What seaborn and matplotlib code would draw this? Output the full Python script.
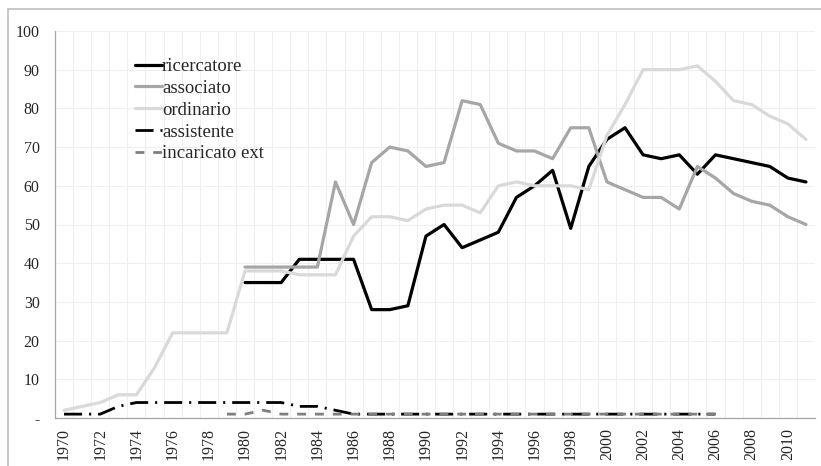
import numpy as np
import pandas as pd
import matplotlib
matplotlib.use("Agg")
import matplotlib.pyplot as plt
from matplotlib.patches import Rectangle
from matplotlib.ticker import FixedLocator, FuncFormatter
import seaborn as sns

years = list(range(1970, 2012))
nan = np.nan

ricercatore = [nan] * 10 + [
    35, 35, 35, 41, 41, 41, 41, 28, 28, 29,
    47, 50, 44, 46, 48, 57, 60, 64, 49, 65,
    72, 75, 68, 67, 68, 63, 68, 67, 66, 65,
    62, 61]
associato = [nan] * 10 + [
    39, 39, 39, 39, 39, 61, 50, 66, 70, 69,
    65, 66, 82, 81, 71, 69, 69, 67, 75, 75,
    61, 59, 57, 57, 54, 65, 62, 58, 56, 55,
    52, 50]
ordinario = [
    2, 3, 4, 6, 6, 13, 22, 22, 22, 22,
    38, 38, 38, 37, 37, 37, 47, 52, 52, 51,
    54, 55, 55, 53, 60, 61, 60, 60, 60, 59,
    73, 81, 90, 90, 90, 91, 87, 82, 81, 78,
    76, 72]
assistente = [
    1, 1, 1, 3, 4, 4, 4, 4, 4, 4,
    4, 4, 4, 3, 3, 2, 1, 1, 1, 1,
    1, 1, 1, 1, 1, 1, 1, 1, 1, 1,
    1, 1, 1, 1, 1, 1, 1] + [nan] * 5
incaricato_ext = [nan] * 9 + [
    1, 1, 2, 1, 1, 1, 1, 1] + [nan] * 17 + [1, 1, 1] + [nan] * 5

series = {
    "ricercatore": ricercatore,
    "associato": associato,
    "ordinario": ordinario,
    "assistente": assistente,
    "incaricato ext": incaricato_ext,
}
styles = {
    "ricercatore": dict(color="#000000", lw=2.3, ls="-"),
    "associato": dict(color="#a6a6a6", lw=2.3, ls="-"),
    "ordinario": dict(color="#d9d9d9", lw=2.3, ls="-"),
    "assistente": dict(color="#000000", lw=2.0, ls=(0, (6.5, 2.5, 0.75, 2.5))),
    "incaricato ext": dict(color="#7f7f7f", lw=2.0, ls=(0, (3.2, 3.2))),
}

df = pd.DataFrame({"anno": years, **series})
long = df.melt(id_vars="anno", var_name="ruolo", value_name="valore")

sns.set_style("white")
plt.rcParams["font.family"] = ["Liberation Serif", "DejaVu Serif"]

fig = plt.figure(figsize=(8.21, 4.66), dpi=100)
ax = fig.add_axes([55 / 821, 1 - 418 / 466, 760 / 821, (418 - 31) / 466])

for name in series:
    sub = long[long["ruolo"] == name]
    st = styles[name]
    sns.lineplot(data=sub, x="anno", y="valore", ax=ax, color=st["color"],
                 linewidth=st["lw"], linestyle=st["ls"], label=name,
                 sort=False, estimator=None)

ax.set_xlim(1969.5, 2011.5)
ax.set_ylim(0, 100)

ax.xaxis.set_major_locator(FixedLocator(years[::2]))
ax.xaxis.set_minor_locator(FixedLocator(np.arange(1969.5, 2012, 1)))
ax.set_yticks(range(0, 101, 10))
ax.yaxis.set_major_formatter(FuncFormatter(lambda v, p: "-" if v == 0 else f"{int(v)}"))

ax.tick_params(axis="x", which="major", length=0, labelsize=11.5, rotation=90, pad=7)
ax.tick_params(axis="x", which="minor", length=5, color="#a6a6a6", width=0.8, direction="out")
ax.tick_params(axis="y", which="major", length=5, color="#a6a6a6", width=0.8,
               labelsize=11.5, pad=6)

ax.grid(False)
ax.grid(True, axis="x", which="minor", color="#efefef", linewidth=0.8)
ax.grid(True, axis="y", which="major", color="#efefef", linewidth=0.8)
ax.set_axisbelow(True)

for side in ("top", "right"):
    ax.spines[side].set_visible(False)
for side in ("left", "bottom"):
    ax.spines[side].set_color("#a6a6a6")
    ax.spines[side].set_linewidth(0.9)

ax.set_xlabel("")
ax.set_ylabel("")

leg = ax.legend(loc="upper left", bbox_to_anchor=(0.105, 0.93), frameon=False,
                fontsize=13.5, handlelength=1.45, handletextpad=0.0,
                labelspacing=0.25, borderpad=0, borderaxespad=0)
leg.set_zorder(5)

fig.patches.append(Rectangle((8 / 821, -0.05), 1.0, 1 - 9 / 466 + 0.05,
                             transform=fig.transFigure, fill=False,
                             edgecolor="#bfbfbf", linewidth=1.2))

fig.savefig("out.png", dpi=100)
